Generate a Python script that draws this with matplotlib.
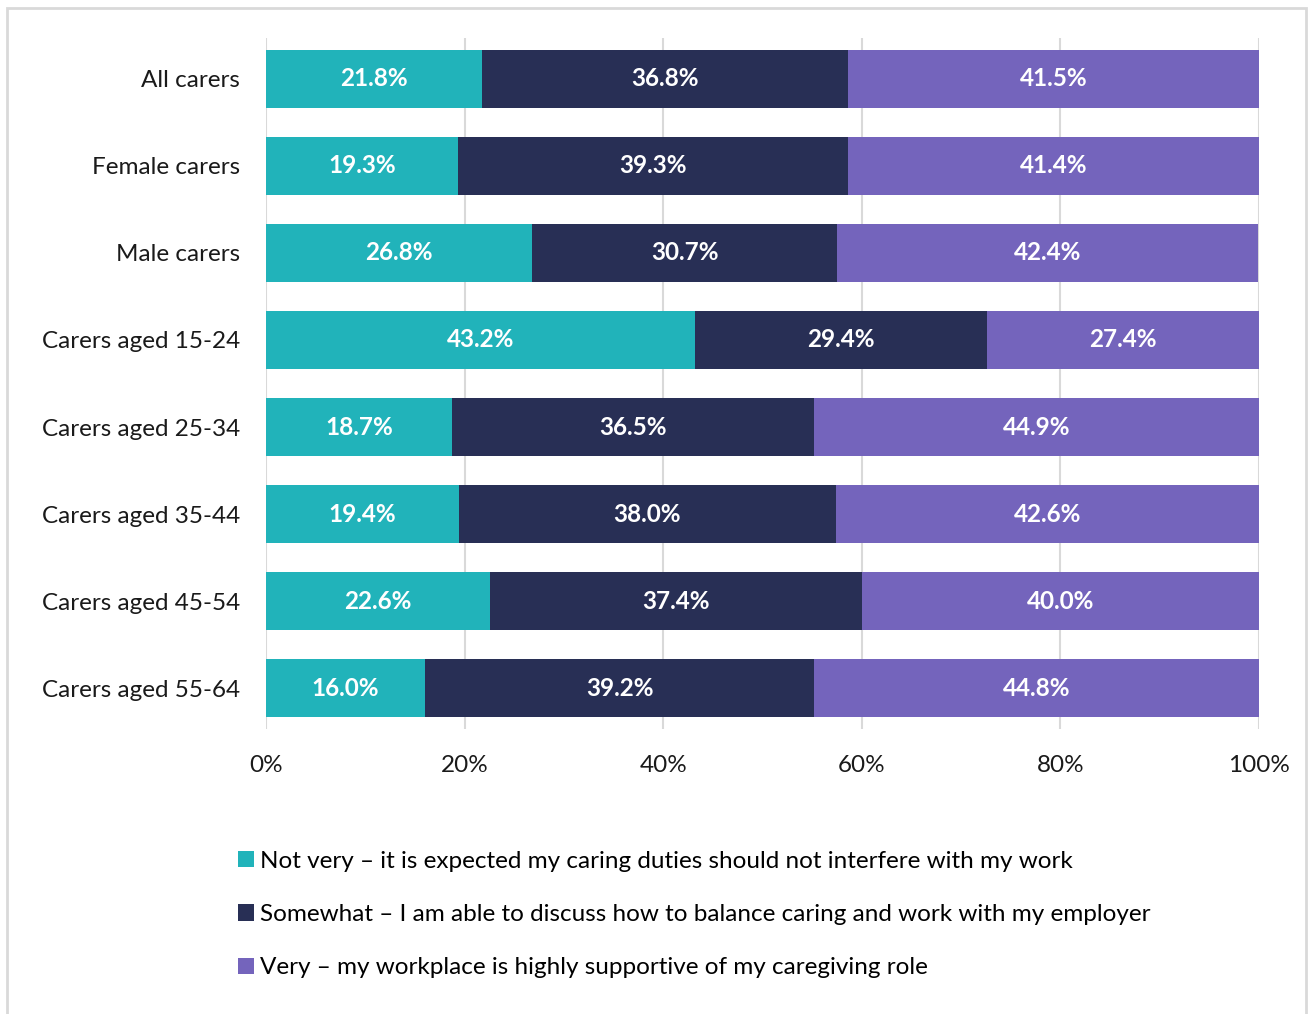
import matplotlib
matplotlib.use("Agg")
import matplotlib.pyplot as plt
from matplotlib.patches import Rectangle
import numpy as np

categories = ["All carers", "Female carers", "Male carers", "Carers aged 15-24",
              "Carers aged 25-34", "Carers aged 35-44", "Carers aged 45-54",
              "Carers aged 55-64"]
not_very = [21.8, 19.3, 26.8, 43.2, 18.7, 19.4, 22.6, 16.0]
somewhat = [36.8, 39.3, 30.7, 29.4, 36.5, 38.0, 37.4, 39.2]
very = [41.5, 41.4, 42.4, 27.4, 44.9, 42.6, 40.0, 44.8]
series_labels = [
    "Not very \u2013 it is expected my caring duties should not interfere with my work",
    "Somewhat \u2013 I am able to discuss how to balance caring and work with my employer",
    "Very \u2013 my workplace is highly supportive of my caregiving role",
]
colors = ["#21B3BA", "#282F55", "#7464BC"]
xticks = [0, 20, 40, 60, 80, 100]

plt.rcParams['font.family'] = ['Lato', 'DejaVu Sans']

W, H = 1308, 1014
fig = plt.figure(figsize=(W / 100, H / 100), dpi=100)
fig.patches.append(Rectangle((7 / W, -0.05), (1306 - 7) / W, 1.05 - 8 / H,
                             transform=fig.transFigure, fill=False,
                             edgecolor="#d9d9d9", linewidth=2))

ax = fig.add_axes([266 / W, 1 - 729 / H, (1259 - 266) / W, (729 - 38) / H])
y = np.arange(len(categories))
left = np.zeros(len(categories))
for vals, c, lab in zip([not_very, somewhat, very], colors, series_labels):
    bars = ax.barh(y, vals, left=left, height=0.66, color=c, label=lab, zorder=3)
    ax.bar_label(bars, labels=[f"{v:.1f}%" for v in vals], label_type="center",
                 color="white", fontsize=17.5, fontweight="bold")
    left += np.array(vals)

ax.set_xlim(0, 100)
ax.set_ylim(len(categories) - 0.53, -0.47)
ax.set_yticks(y)
ax.set_yticklabels(categories, fontsize=17.5)
ax.set_xticks(xticks)
ax.set_xticklabels([f"{t}%" for t in xticks], fontsize=17.5)
ax.tick_params(axis="both", length=0, colors="#1a1a1a")
ax.tick_params(axis="x", pad=18.5)
ax.tick_params(axis="y", pad=18.5)
ax.grid(axis="x", color="#d9d9d9", linewidth=1.5, zorder=0)
for s in ax.spines.values():
    s.set_visible(False)

fig.legend(loc="upper left", bbox_to_anchor=(228 / W, 1 - 841 / H),
           frameon=False, fontsize=17.5, handlelength=0.65, handleheight=0.65,
           handletextpad=0.28, labelspacing=1.33, borderaxespad=0)

fig.savefig("out.png", dpi=100)
